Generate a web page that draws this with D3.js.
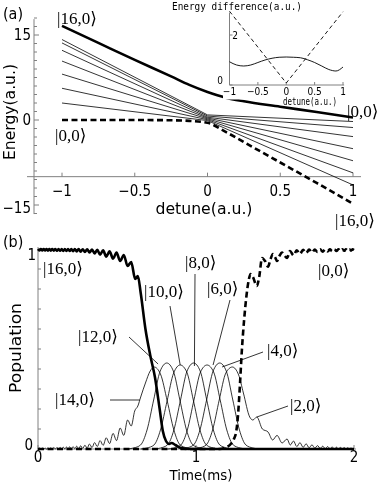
<!DOCTYPE html>
<html><head><meta charset="utf-8">
<script src="https://cdn.jsdelivr.net/npm/d3@7"></script>
<style>body{margin:0;background:#fff}svg{display:block;filter:grayscale(1)}</style>
</head><body><svg id="c" width="382" height="482"></svg>
<script>
// ---------------- DATA: panel (a) ----------------
const detuneTicks = [-1, -0.5, 0, 0.5, 1];
const detuneTickLabels = ["−1", "−0.5", "0", "0.5", "1"];
const energyTicks = [15, 0, -15];
const energyTickLabels = ["15", "0", "−15"];
const detuneGrid = [-1, -0.75, -0.5, -0.25, -0.125, 0, 0.125, 0.25, 0.5, 0.75, 1];
const topStateEnergy = [16.6, 13.6, 10.6, 7.7, 6.2, 4.95, 3.95, 3.3, 2.35, 1.4, 0.45];     // thick solid
const bottomStateEnergy = [0, 0, 0, -0.05, -0.15, -0.5, -2.1, -3.9, -7.5, -11.1, -14.8];   // thick dashed
const thinGrid = [-1, 0, 1];
const thinEnergies = [
  [14.2, 0.9, -0.27],
  [13.6, 0.7, -1.33],
  [12.3, 0.5, -2.93],
  [10.4, 0.35, -5.06],
  [8.1, 0.2, -7.19],
  [5.6, 0.05, -9.33],
  [3.0, -0.1, -11.46]
];
// inset
const insetDetune = [-1,-0.875,-0.75,-0.625,-0.5,-0.375,-0.25,-0.125,0,0.125,0.25,0.375,0.5,0.625,0.75,0.875,1];
const insetGap = [0.93,0.8,0.76,0.8,0.9,1.0,1.07,1.11,1.12,1.11,1.09,1.01,0.9,0.76,0.62,0.56,0.72];
const insetVDetune = [-1, 0, 1];
const insetV = [2.95, 0.08, 2.93];
const insetXTicks = [-1, -0.5, 0, 0.5, 1];
const insetXTickLabels = ["−1", "−0.5", "0", "0.5", "1"];
const insetYTicks = [0, 2];

// ---------------- DATA: panel (b) ----------------
const timeTicks = [0, 1, 2];
const popTicks = [0, 1];
const pop16 = [[0,1],[0.009,0.993],[0.018,1],[0.027,0.993],[0.036,1],[0.045,0.993],[0.054,1],[0.063,0.992],[0.072,1],[0.081,0.992],[0.09,1],[0.1,0.992],[0.11,1],[0.12,0.991],[0.13,1],[0.14,0.991],[0.15,1],[0.16,0.99],[0.17,1],[0.18,0.99],[0.19,1],[0.2,0.99],[0.211,1],[0.222,0.989],[0.233,1],[0.245,0.988],[0.257,1],[0.27,0.987],[0.283,0.999],[0.297,0.985],[0.311,0.998],[0.326,0.983],[0.342,0.997],[0.358,0.978],[0.375,0.996],[0.393,0.972],[0.412,0.993],[0.432,0.962],[0.453,0.988],[0.475,0.952],[0.497,0.982],[0.52,0.94],[0.543,0.97],[0.567,0.915],[0.59,0.935],[0.615,0.85],[0.632,0.865],[0.65,0.78],[0.68,0.6],[0.71,0.47],[0.74,0.36],[0.77,0.2],[0.79,0.09],[0.81,0.04],[0.83,0.025],[0.845,0.03],[0.87,0.02],[0.9,0.006],[0.95,0],[2,0]];
const pop14 = [[0,0],[0.009,0.005],[0.018,0],[0.027,0.005],[0.036,0],[0.045,0.005],[0.054,0],[0.063,0.006],[0.072,0],[0.081,0.006],[0.09,0],[0.1,0.007],[0.11,0.001],[0.12,0.007],[0.13,0.001],[0.14,0.008],[0.15,0.001],[0.16,0.009],[0.17,0.001],[0.18,0.01],[0.19,0.001],[0.2,0.011],[0.211,0.002],[0.222,0.012],[0.233,0.002],[0.245,0.014],[0.257,0.002],[0.27,0.016],[0.283,0.003],[0.297,0.019],[0.311,0.004],[0.326,0.025],[0.342,0.007],[0.358,0.032],[0.375,0.012],[0.393,0.042],[0.412,0.018],[0.432,0.056],[0.453,0.027],[0.475,0.078],[0.497,0.042],[0.52,0.105],[0.543,0.068],[0.567,0.145],[0.59,0.115],[0.612,0.19],[0.632,0.215],[0.65,0.26],[0.68,0.33],[0.71,0.39],[0.735,0.41],[0.775,0.375],[0.818,0.24],[0.86,0.095],[0.9,0.02],[0.945,0.005],[0.985,0]];
const pop12 = [[0.56,0],[0.605,0.005],[0.649,0.02],[0.69,0.095],[0.732,0.245],[0.7735,0.39],[0.815,0.43],[0.8565,0.39],[0.898,0.245],[0.94,0.095],[0.981,0.02],[1.025,0.005],[1.065,0]];
const pop10 = [[0.65,0],[0.69,0.005],[0.734,0.02],[0.775,0.095],[0.817,0.24],[0.8585,0.38],[0.9,0.42],[0.9415,0.385],[0.983,0.245],[1.025,0.095],[1.066,0.02],[1.11,0.005],[1.15,0]];
const pop8 = [[0.735,0],[0.775,0.005],[0.819,0.02],[0.86,0.095],[0.902,0.245],[0.9435,0.39],[0.985,0.43],[1.0265,0.39],[1.068,0.245],[1.11,0.095],[1.151,0.02],[1.195,0.005],[1.235,0]];
const pop6 = [[0.82,0],[0.86,0.005],[0.904,0.02],[0.945,0.095],[0.987,0.245],[1.0285,0.385],[1.07,0.42],[1.1115,0.385],[1.153,0.245],[1.195,0.095],[1.236,0.02],[1.28,0.005],[1.32,0]];
const pop4 = [[0.9,0],[0.94,0.005],[0.984,0.02],[1.025,0.095],[1.067,0.245],[1.1085,0.39],[1.15,0.43],[1.1915,0.39],[1.233,0.245],[1.275,0.095],[1.316,0.02],[1.36,0.005],[1.4,0]];
const pop2 = [[0.98,0],[1.02,0.005],[1.064,0.02],[1.105,0.095],[1.147,0.245],[1.189,0.38],[1.23,0.41],[1.27,0.37],[1.3,0.28],[1.34,0.16],[1.36,0.145],[1.385,0.16],[1.42,0.1],[1.456,0.085],[1.485,0.045],[1.513,0.068],[1.545,0.03],[1.576,0.05],[1.597,0.02],[1.617,0.04],[1.638,0.012],[1.658,0.032],[1.678,0.008],[1.697,0.026],[1.716,0.006],[1.734,0.021],[1.752,0.004],[1.769,0.017],[1.786,0.003],[1.802,0.014],[1.818,0.002],[1.833,0.012],[1.848,0.002],[1.862,0.01],[1.876,0.001],[1.889,0.009],[1.902,0.001],[1.914,0.008],[1.926,0.001],[1.938,0.007],[1.949,0.001],[1.96,0.006],[1.971,0.001],[1.981,0.005],[1.991,0.001],[2,0.004]];
const pop0 = [[0,0],[1.15,0],[1.18,0.005],[1.2,0.012],[1.22,0.025],[1.24,0.05],[1.255,0.09],[1.265,0.16],[1.278,0.32],[1.29,0.49],[1.305,0.65],[1.32,0.77],[1.335,0.85],[1.345,0.875],[1.36,0.86],[1.385,0.815],[1.4,0.86],[1.418,0.955],[1.437,0.94],[1.456,0.912],[1.472,0.95],[1.487,0.975],[1.5,0.96],[1.513,0.94],[1.528,0.965],[1.544,0.982],[1.56,0.968],[1.576,0.955],[1.595,0.99],[1.617,0.968],[1.638,0.994],[1.658,0.975],[1.678,0.996],[1.697,0.98],[1.716,0.997],[1.734,0.983],[1.752,0.997],[1.769,0.985],[1.786,0.998],[1.802,0.987],[1.818,0.998],[1.833,0.988],[1.848,0.998],[1.862,0.989],[1.876,0.998],[1.889,0.99],[1.902,0.998],[1.914,0.99],[1.926,0.998],[1.938,0.991],[1.949,0.998],[1.96,0.991],[1.971,0.998],[1.981,0.992],[1.991,0.998],[2,0.995]];
const thinPops = [pop14, pop12, pop10, pop8, pop6, pop4, pop2];
// label names and the (time, population) points their pointer lines reach
const popLabelNames = ["|14,0⟩", "|12,0⟩", "|10,0⟩", "|8,0⟩", "|6,0⟩", "|4,0⟩", "|2,0⟩"];
const pointerTargets = [[0.645,0.245],[0.76,0.425],[0.9,0.42],[0.99,0.415],[1.108,0.42],[1.165,0.41],[1.385,0.16]];

// ---------------- DRAW ----------------
const svg = d3.select("#c");
const SANS = "'Liberation Sans Narrow','DejaVu Sans Condensed','Liberation Sans',sans-serif";
const SERIF = "'Liberation Serif','DejaVu Serif',serif";
const AX = "#808080";

function txt(x, y, s, size, fam, anchor) {
  return svg.append("text").attr("x", x).attr("y", y).text(s)
    .attr("font-size", size).attr("font-family", fam).attr("text-anchor", anchor || "start").attr("fill", "#000");
}

// ===== Panel (a) =====
const xa = d3.scaleLinear().domain([-1, 1]).range([62, 353]);
const ya = d3.scaleLinear().domain([-15, 15]).range([205, 35]);
const ga = svg.append("g");
ga.append("line").attr("x1", 27).attr("x2", 361).attr("y1", ya(-10)).attr("y2", ya(-10)).attr("stroke", AX).attr("stroke-width", 1);
ga.append("line").attr("x1", 34).attr("x2", 34).attr("y1", ya(17.8)).attr("y2", ya(-16.6)).attr("stroke", AX).attr("stroke-width", 1);
d3.range(-16.5, 18.01, 1.5).forEach(v => {
  const major = energyTicks.some(t => Math.abs(t - v) < 1e-6);
  ga.append("line").attr("x1", 34).attr("x2", 34 + (major ? 5 : 3)).attr("y1", ya(v)).attr("y2", ya(v)).attr("stroke", AX);
});
energyTicks.forEach((v, i) => {
  txt(31, ya(v) + 5 + (v < 0 ? 3 : 0), energyTickLabels[i], 15, SANS, "end");
});
detuneTicks.forEach((v, i) => {
  ga.append("line").attr("x1", xa(v)).attr("x2", xa(v)).attr("y1", ya(-10)).attr("y2", ya(-10) - 4).attr("stroke", AX);
  txt(xa(v), ya(-10) + 19, detuneTickLabels[i], 15, SANS, "middle");
});
const lineA = d3.line().x(d => xa(d[0])).y(d => ya(d[1]));
thinEnergies.forEach(arr => {
  ga.append("path").attr("d", lineA(thinGrid.map((x, i) => [x, arr[i]])))
    .attr("fill", "none").attr("stroke", "#000").attr("stroke-width", 0.8);
});
const smoothA = d3.line().x(d => xa(d[0])).y(d => ya(d[1])).curve(d3.curveMonotoneX);
ga.append("path").attr("d", smoothA(detuneGrid.map((x, i) => [x, bottomStateEnergy[i]])))
  .attr("fill", "none").attr("stroke", "#000").attr("stroke-width", 2.6).attr("stroke-dasharray", "6,3.5");
ga.append("path").attr("d", smoothA(detuneGrid.map((x, i) => [x, topStateEnergy[i]])))
  .attr("fill", "none").attr("stroke", "#000").attr("stroke-width", 2.6);
txt(0, 0, "Energy(a.u.)", 15, SANS, "middle").attr("transform", "translate(15,112) rotate(-90)").attr("textLength", 96).attr("lengthAdjust", "spacingAndGlyphs");
txt(204, 214, "detune(a.u.)", 15, SANS, "middle").attr("textLength", 97).attr("lengthAdjust", "spacingAndGlyphs");
txt(3, 19, "(a)", 16, SANS);
txt(57, 24, "|16,0⟩", 17, SERIF);
txt(55, 141, "|0,0⟩", 17, SERIF);
txt(347, 117, "|0,0⟩", 17, SERIF);
txt(335, 226, "|16,0⟩", 17, SERIF);

// ===== Inset =====
const xi = d3.scaleLinear().domain([-1, 1]).range([229.5, 343]);
const yi = d3.scaleLinear().domain([0, 2]).range([85, 35]);
const gi = svg.append("g");
gi.append("rect").attr("x", 223).attr("y", 0).attr("width", 127).attr("height", 99.5).attr("fill", "#fff");
gi.append("line").attr("x1", xi(-1)).attr("x2", xi(1.02)).attr("y1", yi(0)).attr("y2", yi(0)).attr("stroke", AX);
gi.append("line").attr("x1", xi(-1)).attr("x2", xi(-1)).attr("y1", yi(0)).attr("y2", yi(2.9)).attr("stroke", AX);
insetXTicks.forEach((v, i) => {
  gi.append("line").attr("x1", xi(v)).attr("x2", xi(v)).attr("y1", yi(0)).attr("y2", yi(0) - 3).attr("stroke", AX);
  txt(xi(v), 95, insetXTickLabels[i], 10, SANS, "middle");
});
insetYTicks.forEach(v => {
  gi.append("line").attr("x1", xi(-1)).attr("x2", xi(-1) + 3).attr("y1", yi(v)).attr("y2", yi(v)).attr("stroke", AX);
});
txt(223, yi(0) - 1, "0", 10, SANS, "end");
txt(235, yi(2) + 4, "2", 10, SANS, "middle");
const lineI = d3.line().x(d => xi(d[0])).y(d => yi(d[1]));
gi.append("path").attr("d", lineI(insetVDetune.map((x, i) => [x, insetV[i]])))
  .attr("fill", "none").attr("stroke", "#000").attr("stroke-width", 0.9).attr("stroke-dasharray", "4,3");
gi.append("path").attr("d", lineI.curve(d3.curveMonotoneX)(insetDetune.map((x, i) => [x, insetGap[i]])))
  .attr("fill", "none").attr("stroke", "#000").attr("stroke-width", 0.9);
txt(172, 10, "Energy difference(a.u.)", 10, "'DejaVu Sans Mono',monospace").attr("textLength", 130).attr("lengthAdjust", "spacingAndGlyphs");
txt(310, 105, "detune(a.u.)", 10, "'DejaVu Sans Mono',monospace", "middle").attr("textLength", 54).attr("lengthAdjust", "spacingAndGlyphs");

// ===== Panel (b) =====
const xb = d3.scaleLinear().domain([0, 2]).range([38, 354]);
const yb = d3.scaleLinear().domain([0, 1]).range([449, 249]);
const gb = svg.append("g");
gb.append("line").attr("x1", 37).attr("x2", 356).attr("y1", yb(0)).attr("y2", yb(0)).attr("stroke", AX);
gb.append("line").attr("x1", xb(0)).attr("x2", xb(0)).attr("y1", yb(-0.01)).attr("y2", yb(1.01)).attr("stroke", AX);
d3.range(0, 1.001, 0.1).forEach(v => {
  const major = popTicks.some(t => Math.abs(t - v) < 1e-6);
  gb.append("line").attr("x1", xb(0)).attr("x2", xb(0) + (major ? 5 : 3)).attr("y1", yb(v)).attr("y2", yb(v)).attr("stroke", AX);
});
popTicks.forEach(v => {
  txt(v === 1 ? xb(0) - 2 : xb(0) - 5, yb(v) + (v === 1 ? 11 : 1), String(v), 15, SANS, "end");
});
timeTicks.forEach(v => {
  gb.append("line").attr("x1", xb(v)).attr("x2", xb(v)).attr("y1", yb(0)).attr("y2", yb(0) - 4).attr("stroke", AX);
  txt(xb(v), 462, String(v), 15, SANS, "middle");
});
const lineB = d3.line().x(d => xb(d[0])).y(d => yb(d[1])).curve(d3.curveMonotoneX);
thinPops.forEach(arr => {
  gb.append("path").attr("d", lineB(arr)).attr("fill", "none").attr("stroke", "#000").attr("stroke-width", 0.8);
});
gb.append("path").attr("d", lineB(pop0)).attr("fill", "none").attr("stroke", "#000").attr("stroke-width", 2.6).attr("stroke-dasharray", "6,3.5");
gb.append("path").attr("d", lineB(pop16)).attr("fill", "none").attr("stroke", "#000").attr("stroke-width", 2.6);
const labelPos = [[55,405],[78,342],[144,297],[185,268],[207,294],[267,356],[290,411]];
const pointerStart = [[110,400],[129,337],[170,306],[195,274],[230,300],[263,352],[288,406]];
popLabelNames.forEach((s, i) => {
  txt(labelPos[i][0], labelPos[i][1], s, 17, SERIF);
  gb.append("line").attr("x1", pointerStart[i][0]).attr("y1", pointerStart[i][1])
    .attr("x2", xb(pointerTargets[i][0])).attr("y2", yb(pointerTargets[i][1]))
    .attr("stroke", "#000").attr("stroke-width", 0.8);
});
txt(43, 274, "|16,0⟩", 17, SERIF);
txt(318, 276, "|0,0⟩", 17, SERIF);
txt(0, 0, "Population", 15, SANS, "middle").attr("transform", "translate(21,348) rotate(-90)").attr("textLength", 90).attr("lengthAdjust", "spacingAndGlyphs");
txt(201, 479.5, "Time(ms)", 14, SANS, "middle").attr("textLength", 63).attr("lengthAdjust", "spacingAndGlyphs");
txt(3, 247, "(b)", 16, SANS);
</script></body></html>
